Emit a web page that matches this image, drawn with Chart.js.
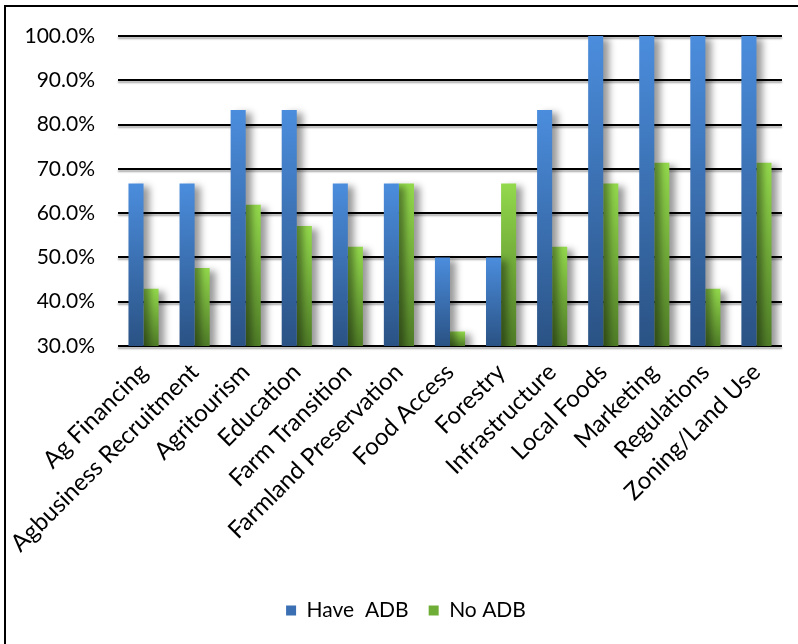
<!DOCTYPE html>
<html>
<head>
<meta charset="utf-8">
<script src="https://cdn.jsdelivr.net/npm/chart.js@4/dist/chart.umd.min.js"></script>
<style>
  html, body { margin: 0; padding: 0; background: #fff; overflow: hidden; }
  #wrap { position: relative; width: 798px; height: 644px; }
  #frame { position: absolute; left: 4px; top: 5px; width: 820px; height: 660px; border: 2px solid #000; box-sizing: border-box; }
  canvas { position: absolute; left: 0; top: 0; }
</style>
</head>
<body>
<div id="wrap">
  <div id="frame"></div>
  <canvas id="adbChart" width="798" height="644"></canvas>
</div>
<script>
const categories = [
  'Ag Financing', 'Agbusiness Recruitment', 'Agritourism', 'Education',
  'Farm Transition', 'Farmland Preservation', 'Food Access', 'Forestry',
  'Infrastructure', 'Local Foods', 'Marketing', 'Regulations', 'Zoning/Land Use'
];
const haveADB = [66.7, 66.7, 83.3, 83.3, 66.7, 66.7, 50.0, 50.0, 83.3, 100.0, 100.0, 100.0, 100.0];
const noADB = [42.9, 47.6, 61.9, 57.1, 52.4, 66.7, 33.3, 66.7, 52.4, 66.7, 71.4, 42.9, 71.4];
const yTicks = [30, 40, 50, 60, 70, 80, 90, 100];

const FONT = 'Lato, "Open Sans", sans-serif';

// vertical gradient per bar, light on top, dark at the base
function barGradient(top, bottom) {
  return (ctx) => {
    const chart = ctx.chart;
    if (!chart.chartArea || ctx.raw == null) return bottom;
    const y = chart.scales.y;
    const y0 = y.getPixelForValue(ctx.raw);
    const y1 = y.getPixelForValue(y.min);
    const g = chart.ctx.createLinearGradient(0, y0, 0, y1);
    g.addColorStop(0, top);
    g.addColorStop(1, bottom);
    return g;
  };
}

// soft drop shadow behind the bars and the grid lines
const shadowPlugin = {
  id: 'shadows',
  afterLayout(chart) {
    // legend sits a little right of the canvas centre in the original
    if (chart.legend) {
      chart.legend.left += 15;
      chart.legend.right += 15;
    }
    const s = chart.scales.y;
    if (s._shadowed) return;
    s._shadowed = true;
    const orig = s.drawGrid;
    s.drawGrid = function (area) {
      const c = this.ctx;
      c.save();
      c.shadowColor = 'rgba(0,0,0,0.35)';
      c.shadowOffsetY = 2;
      c.shadowBlur = 2;
      orig.call(this, area);
      c.restore();
    };
  },
  beforeDatasetsDraw(chart) {
    const c = chart.ctx;
    c.save();
    c.shadowColor = 'rgba(0,0,0,0.4)';
    c.shadowOffsetX = 6;
    c.shadowOffsetY = 3;
    c.shadowBlur = 7;
  },
  afterDatasetsDraw(chart) {
    chart.ctx.restore();
  }
};

new Chart(document.getElementById('adbChart'), {
  type: 'bar',
  data: {
    labels: categories,
    datasets: [
      {
        label: 'Have  ADB',
        data: haveADB,
        backgroundColor: barGradient('#4b8ddd', '#2a5284'),
        categoryPercentage: 0.59,
        barPercentage: 1.0
      },
      {
        label: 'No ADB',
        data: noADB,
        backgroundColor: barGradient('#93d94c', '#4e7b26'),
        categoryPercentage: 0.59,
        barPercentage: 1.0
      }
    ]
  },
  options: {
    responsive: false,
    animation: false,
    layout: { padding: { left: 0, right: 16, top: 36, bottom: 13 } },
    plugins: {
      tooltip: { enabled: false },
      legend: {
        position: 'bottom',
        labels: {
          color: '#000',
          font: { family: FONT, size: 21 },
          boxWidth: 10,
          boxHeight: 10,
          padding: 20,
          generateLabels: (chart) => [
            { text: 'Have  ADB', fillStyle: '#3b6fb3', strokeStyle: '#3b6fb3', lineWidth: 0, datasetIndex: 0, fontColor: '#000' },
            { text: 'No ADB', fillStyle: '#6fae36', strokeStyle: '#6fae36', lineWidth: 0, datasetIndex: 1, fontColor: '#000' }
          ]
        }
      }
    },
    scales: {
      x: {
        grid: { display: false },
        border: { display: false },
        ticks: {
          color: '#000',
          font: { family: FONT, size: 24 },
          minRotation: 45,
          maxRotation: 45,
          padding: 4,
          autoSkip: false
        },
        afterFit: (scale) => { scale.height = 234; }
      },
      y: {
        min: 30,
        max: 100,
        afterBuildTicks: (scale) => { scale.ticks = yTicks.map(v => ({ value: v })); },
        grid: { color: '#000', lineWidth: 2, drawTicks: false },
        border: { display: false },
        ticks: {
          color: '#000',
          font: { family: FONT, size: 21 },
          padding: 23,
          callback: (v) => v.toFixed(1) + '%'
        },
        afterFit: (scale) => { scale.width = 118; }
      }
    }
  },
  plugins: [shadowPlugin]
});
</script>
</body>
</html>
